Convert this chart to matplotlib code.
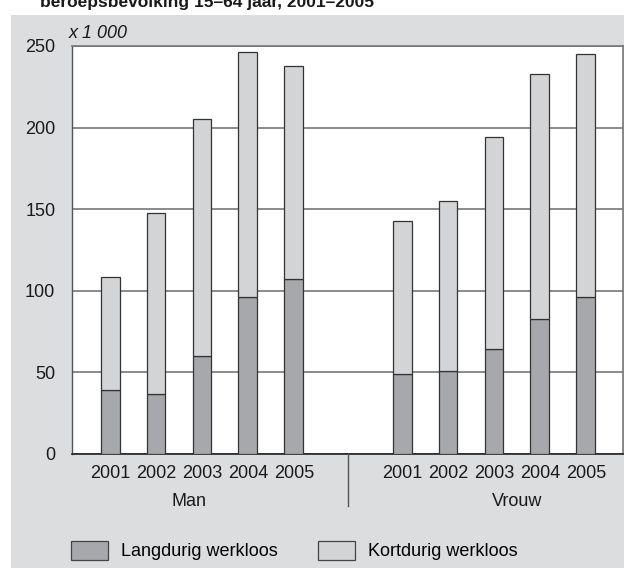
import numpy as np
import matplotlib
matplotlib.use("Agg")
from matplotlib import pyplot as plt
from matplotlib.patches import Rectangle, Patch
from matplotlib.lines import Line2D

plt.rcParams['font.family'] = ['Liberation Sans', 'DejaVu Sans']

# Data (x 1 000)
years = ['2001', '2002', '2003', '2004', '2005']
groups = ['Man', 'Vrouw']
man_lang = [39.5, 36.5, 60, 96.5, 107]
man_totaal = [108.5, 147.5, 205, 246.5, 238]
vrouw_lang = [49, 51, 64.5, 82.5, 96.5]
vrouw_totaal = [143, 155, 194.5, 233, 245]

man_kort = [t - l for t, l in zip(man_totaal, man_lang)]
vrouw_kort = [t - l for t, l in zip(vrouw_totaal, vrouw_lang)]

W, H = 624, 568
DARK = '#a7a8ab'
LIGHT = '#d3d4d6'
EDGE = '#333333'
PANEL = '#dcdddf'
TXT = '#1a1a1a'

fig = plt.figure(figsize=(W / 100, H / 100), dpi=100)
fig.patch.set_facecolor('white')

# grey background panel
fig.add_artist(Rectangle((11 / W, 0), 1 - 11 / W, 1 - 15 / H,
                         transform=fig.transFigure, facecolor=PANEL,
                         edgecolor='none', zorder=0))

left, right, top, bottom = 72, 623, 46, 454
ax = fig.add_axes([left / W, 1 - bottom / H, (right - left) / W, (bottom - top) / H])
ax.set_facecolor('white')
ax.set_zorder(1)

x_man = np.arange(5)
x_vrouw = np.arange(5) + 6.36
bw = 0.41

ax.bar(x_man, man_lang, bw, color=DARK, edgecolor=EDGE, linewidth=0.9, zorder=3)
ax.bar(x_man, man_kort, bw, bottom=man_lang, color=LIGHT, edgecolor=EDGE, linewidth=0.9, zorder=3)
ax.bar(x_vrouw, vrouw_lang, bw, color=DARK, edgecolor=EDGE, linewidth=0.9, zorder=3)
ax.bar(x_vrouw, vrouw_kort, bw, bottom=vrouw_lang, color=LIGHT, edgecolor=EDGE, linewidth=0.9, zorder=3)

ax.set_xlim(-0.83, 11.17)
ax.set_ylim(0, 250)
ax.set_yticks([0, 50, 100, 150, 200, 250])
ax.yaxis.grid(True, color='#777777', linewidth=1.2, zorder=1)
ax.set_axisbelow(True)
ax.set_xticks(np.concatenate([x_man, x_vrouw]), years + years)
ax.tick_params(axis='both', length=0, labelsize=13, colors=TXT)
ax.tick_params(axis='y', pad=12)
ax.tick_params(axis='x', pad=8)

for s in ['top', 'right']:
    ax.spines[s].set_color('#777777')
    ax.spines[s].set_linewidth(1.2)
ax.spines['left'].set_color('#555555')
ax.spines['left'].set_linewidth(1.0)
ax.spines['bottom'].set_color('#222222')
ax.spines['bottom'].set_linewidth(1.2)

# separator between groups
fig.add_artist(Line2D([348.4 / W, 348.4 / W], [1 - bottom / H, 1 - 506 / H],
                      transform=fig.transFigure, color='#555555', linewidth=1.0))

fig.text(189 / W, 1 - 502 / H, groups[0], ha='center', va='center', fontsize=13, color=TXT)
fig.text(517.5 / W, 1 - 502 / H, groups[1], ha='center', va='center', fontsize=13, color=TXT)

fig.text(69 / W, 1 - 37.5 / H, 'x 1 000', ha='left', va='baseline', fontsize=13,
         style='italic', color=TXT)

fig.text(40 / W, 1 - 7 / H, 'beroepsbevolking 15\u201364 jaar, 2001\u20132005',
         ha='left', va='baseline', fontsize=12.5, fontweight='bold', color=TXT)

handles = [Patch(facecolor=DARK, edgecolor='#444444', linewidth=0.9, label='Langdurig werkloos'),
           Patch(facecolor=LIGHT, edgecolor='#444444', linewidth=0.9, label='Kortdurig werkloos')]
fig.legend(handles=handles, loc='center left', bbox_to_anchor=(70.5 / W, 1 - 550.5 / H),
           ncol=2, frameon=False, fontsize=13, handlelength=2.1, handleheight=1.25,
           handletextpad=0.7, columnspacing=2.2, borderpad=0, borderaxespad=0)

fig.savefig('out.png', dpi=100)
